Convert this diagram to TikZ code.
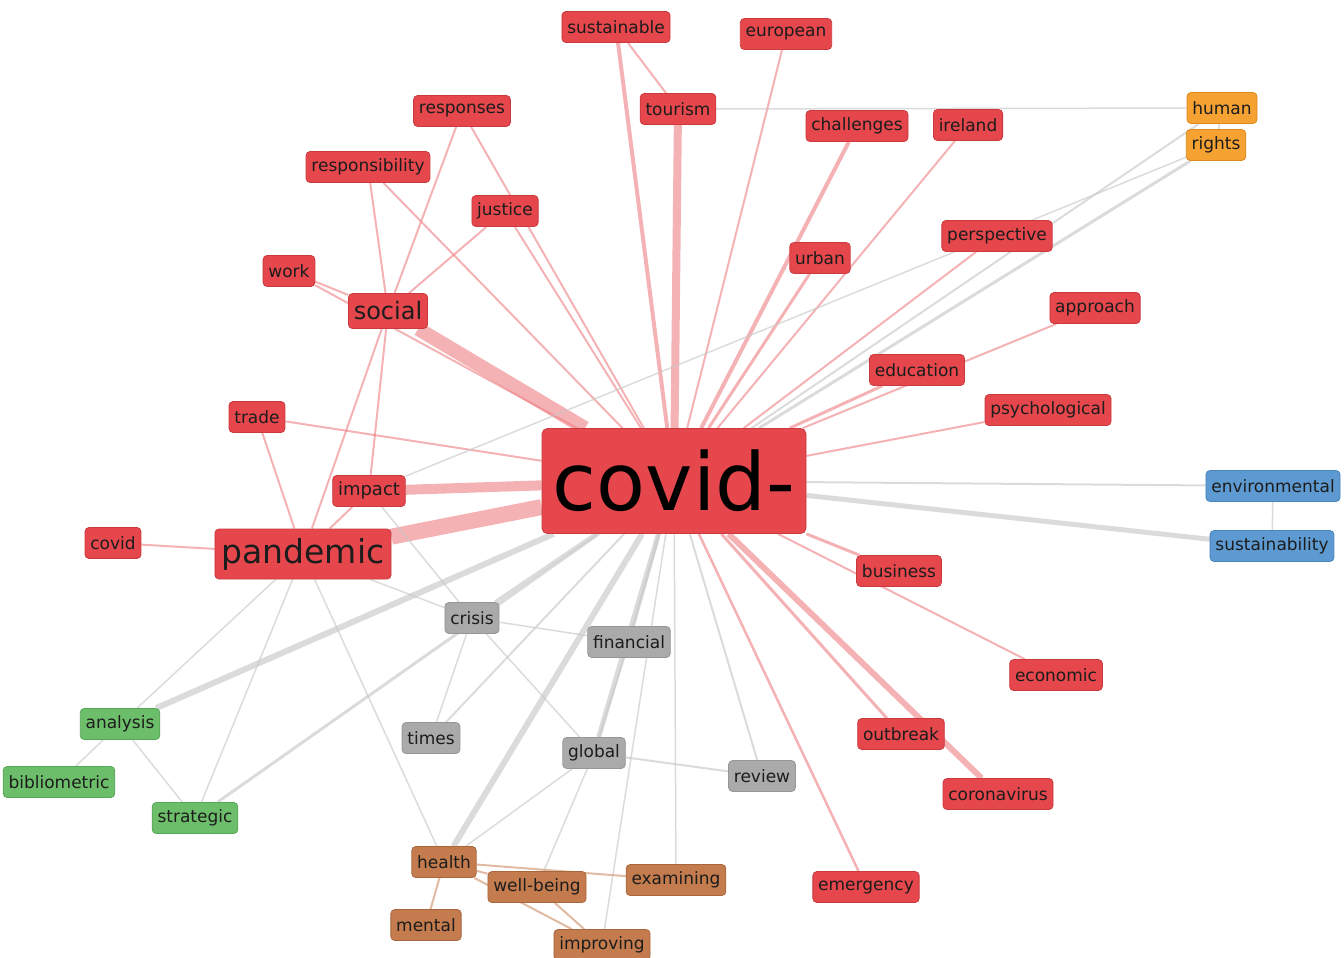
\documentclass[tikz,border=0pt]{standalone}
\usepackage{fontspec}
\setmainfont{DejaVu Sans}
\usetikzlibrary{backgrounds}
\definecolor{ink}{HTML}{1C1C1C}
\definecolor{crim}{HTML}{E5474C}
\definecolor{crimline}{HTML}{C93A3F}
\definecolor{amber}{HTML}{F6A233}
\definecolor{amberline}{HTML}{DC8A20}
\definecolor{azure}{HTML}{5E9AD2}
\definecolor{azureline}{HTML}{4B84BA}
\definecolor{leaf}{HTML}{6DBE6B}
\definecolor{leafline}{HTML}{58A657}
\definecolor{stone}{HTML}{AAAAAA}
\definecolor{stoneline}{HTML}{969696}
\definecolor{clay}{HTML}{C47C4E}
\definecolor{clayline}{HTML}{A8663C}
\definecolor{linkred}{HTML}{EE7F84}
\definecolor{linkgray}{HTML}{C8C8C8}
\definecolor{linkclay}{HTML}{D9A98C}
\tikzset{
  every node/.style={text=ink, inner sep=0pt},
  word/.style={rounded corners=3pt, line width=0.6pt, minimum height=23.25pt,
               inner xsep=4pt, font=\fontsize{12.75}{14}\selectfont},
  crimword/.style={word, fill=crim, draw=crimline},
  amberword/.style={word, fill=amber, draw=amberline},
  azureword/.style={word, fill=azure, draw=azureline},
  leafword/.style={word, fill=leaf, draw=leafline},
  stoneword/.style={word, fill=stone, draw=stoneline},
  clayword/.style={word, fill=clay, draw=clayline},
  hub/.style={crimword, rounded corners=4pt, minimum width=198pt, minimum height=78.75pt,
              font=\fontsize{60}{66}\selectfont, text=black},
  rlink/.style={draw=linkred, line width=#1*0.75pt, draw opacity=.6},
  rlink/.default=2,
  glink/.style={draw=linkgray, line width=#1*0.75pt, draw opacity=.65},
  glink/.default=1.5,
  clink/.style={draw=linkclay, line width=#1*0.75pt, draw opacity=.8},
  clink/.default=2,
}
\begin{document}
\begin{tikzpicture}[x=0.75pt, y=-0.75pt]
\useasboundingbox (0,0) rectangle (1344,957);
% ---- hub ----------------------------------------------------------------------
\node[hub] (covidhub) at (674,481) {covid-};

% ---- red cluster --------------------------------------------------------------
\node[crimword] (sustainable)    at (616,27)  {sustainable};
\node[crimword] (european)       at (786,34)  {european};
\node[crimword] (tourism)        at (678,109) {tourism};
\node[crimword] (responses)      at (462,111) {responses};
\node[crimword] (challenges)     at (857,126) {challenges};
\node[crimword] (ireland)        at (968,125) {ireland};
\node[crimword] (responsibility) at (368,167) {responsibility};
\node[crimword] (justice)        at (505,211) {justice};
\node[crimword] (work)           at (289,271) {work};
\node[crimword, minimum height=26.25pt, font=\fontsize{18}{20}\selectfont] (social) at (388,311) {social};
\node[crimword] (urban)          at (820,258) {urban};
\node[crimword] (perspective)    at (997,236) {perspective};
\node[crimword] (approach)       at (1095,308) {approach};
\node[crimword] (education)      at (917,370) {education};
\node[crimword] (psychological)  at (1048,410) {psychological};
\node[crimword] (trade)          at (257,417) {trade};
\node[crimword, font=\fontsize{13.5}{15}\selectfont] (impact) at (369,491) {impact};
\node[crimword] (covid)          at (113,543) {covid};
\node[crimword, minimum height=37.5pt, inner xsep=5pt, font=\fontsize{24.75}{27}\selectfont] (pandemic) at (303,554) {pandemic};
\node[crimword] (business)       at (899,571) {business};
\node[crimword] (economic)       at (1056,675) {economic};
\node[crimword] (outbreak)       at (901,734) {outbreak};
\node[crimword] (coronavirus)    at (998,794) {coronavirus};
\node[crimword] (emergency)      at (866,887) {emergency};

% ---- other clusters -----------------------------------------------------------
\node[amberword] (human)         at (1222,108) {human};
\node[amberword] (rights)        at (1216,145) {rights};
\node[azureword] (environmental) at (1273,486) {environmental};
\node[azureword] (sustainability) at (1272,546) {sustainability};
\node[stoneword] (crisis)        at (472,618) {crisis};
\node[stoneword] (financial)     at (629,642) {financial};
\node[stoneword] (times)         at (431,738) {times};
\node[stoneword] (global)        at (594,753) {global};
\node[stoneword] (review)        at (762,776) {review};
\node[leafword] (analysis)       at (120,724) {analysis};
\node[leafword] (bibliometric)   at (59,782)  {bibliometric};
\node[leafword] (strategic)      at (195,818) {strategic};
\node[clayword] (health)         at (444,862) {health};
\node[clayword] (wellbeing)      at (537,887) {well-being};
\node[clayword] (examining)      at (676,880) {examining};
\node[clayword] (mental)         at (426,925) {mental};
\node[clayword] (improving)      at (602,945) {improving};

\begin{scope}[on background layer]
% ---- links: hub, red ----------------------------------------------------------
\draw[rlink=16] (covidhub) -- (pandemic);
\draw[rlink=14] (covidhub) -- (social);
\draw[rlink=10] (covidhub) -- (impact);
\draw[rlink=8] (covidhub) -- (tourism);
\draw[rlink=6] (covidhub) -- (coronavirus);
\draw[rlink=4] (covidhub) -- (sustainable);
\draw[rlink=4] (covidhub) -- (challenges);
\draw[rlink=3] (covidhub) -- (urban);
\draw[rlink=3] (covidhub) -- (education);
\draw[rlink=3] (covidhub) -- (business);
\draw[rlink=3] (covidhub) -- (outbreak);
\draw[rlink=2.5] (covidhub) -- (emergency);
\draw[rlink] (covidhub) -- (european);
\draw[rlink] (covidhub) -- (ireland);
\draw[rlink] (covidhub) -- (perspective);
\draw[rlink] (covidhub) -- (approach);
\draw[rlink] (covidhub) -- (psychological);
\draw[rlink] (covidhub) -- (economic);
\draw[rlink] (covidhub) -- (responsibility);
\draw[rlink] (covidhub) -- (responses);
\draw[rlink] (covidhub) -- (justice);
\draw[rlink] (covidhub) -- (trade);
\draw[rlink] (covidhub) -- (work);

% ---- links: red, among themselves --------------------------------------------
\draw[rlink] (sustainable) -- (tourism);
\draw[rlink] (social) -- (work);
\draw[rlink] (social) -- (responsibility);
\draw[rlink] (social) -- (responses);
\draw[rlink] (social) -- (justice);
\draw[rlink] (social) -- (impact);
\draw[rlink] (social) -- (pandemic);
\draw[rlink] (pandemic) -- (trade);
\draw[rlink] (pandemic) -- (covid);
\draw[rlink] (pandemic) -- (impact);

% ---- links: hub, grey ---------------------------------------------------------
\draw[glink=6] (covidhub) -- (analysis);
\draw[glink=6] (covidhub) -- (health);
\draw[glink=5] (covidhub) -- (global);
\draw[glink=5] (covidhub) -- (sustainability);
\draw[glink=4] (covidhub) -- (crisis);
\draw[glink=3] (covidhub) -- (financial);
\draw[glink=3] (covidhub) -- (strategic);
\draw[glink=3] (covidhub) -- (rights);
\draw[glink=2] (covidhub) -- (human);
\draw[glink=2] (covidhub) -- (environmental);
\draw[glink=2] (covidhub) -- (times);
\draw[glink=2] (covidhub) -- (review);
\draw[glink] (covidhub) -- (examining);
\draw[glink] (covidhub) -- (improving);

% ---- links: grey, among themselves --------------------------------------------
\draw[glink] (tourism) -- (human);
\draw[glink] (human) -- (rights);
\draw[glink] (impact) -- (rights);
\draw[glink] (environmental) -- (sustainability);
\draw[glink] (pandemic) -- (analysis);
\draw[glink] (pandemic) -- (strategic);
\draw[glink] (pandemic) -- (health);
\draw[glink] (pandemic) -- (crisis);
\draw[glink] (impact) -- (crisis);
\draw[glink] (crisis) -- (financial);
\draw[glink] (crisis) -- (times);
\draw[glink] (crisis) -- (global);
\draw[glink=2] (financial) -- (global);
\draw[glink=2] (global) -- (review);
\draw[glink] (global) -- (health);
\draw[glink] (global) -- (wellbeing);
\draw[glink] (analysis) -- (bibliometric);
\draw[glink] (analysis) -- (strategic);

% ---- links: well-being group --------------------------------------------------
\draw[clink] (health) -- (mental);
\draw[clink] (health) -- (wellbeing);
\draw[clink] (health) -- (examining);
\draw[clink] (health) -- (improving);
\draw[clink] (wellbeing) -- (improving);
\end{scope}
\end{tikzpicture}
\end{document}
